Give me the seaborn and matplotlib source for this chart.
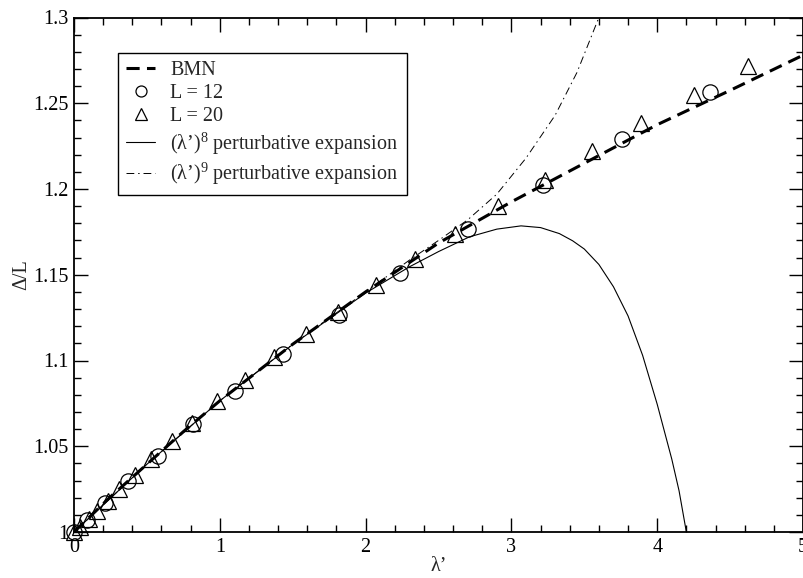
import numpy as np
import matplotlib
matplotlib.use("Agg")
import matplotlib.pyplot as plt
import seaborn as sns
from matplotlib.ticker import MultipleLocator, FuncFormatter

# ---- data ----
bmn_x = [0.0, 0.25, 0.5, 0.75, 1.0, 1.5, 2.0, 2.5, 3.0, 3.5, 4.0, 4.5, 5.0]
bmn_y = [1.0, 1.0205, 1.0395, 1.0585, 1.0765, 1.1095, 1.1400, 1.1685, 1.1925,
         1.2150, 1.2375, 1.2575, 1.2780]

l12_x = [0.0, 0.087, 0.212, 0.372, 0.573, 0.817, 1.107, 1.436, 1.817, 2.237,
         2.705, 3.215, 3.762, 4.361]
l12_y = [1.0, 1.007, 1.017, 1.0297, 1.0443, 1.063, 1.0823, 1.1037, 1.1266, 1.151,
         1.1764, 1.2022, 1.229, 1.2566]

l20_x = [0.0, 0.04, 0.10, 0.16, 0.23, 0.31, 0.42, 0.53, 0.67, 0.81, 0.98, 1.17,
         1.37, 1.59, 1.81, 2.07, 2.34, 2.61, 2.91, 3.23, 3.55, 3.89, 4.25, 4.62]
l20_y = [1.0, 1.003, 1.0075, 1.0125, 1.018, 1.025, 1.033, 1.0425, 1.053, 1.0635,
         1.0765, 1.0886, 1.1018, 1.1154, 1.1284, 1.1439, 1.1589, 1.174, 1.190,
         1.2051, 1.222, 1.2385, 1.2551, 1.2716]

p8_x = [0.0, 0.5, 1.0, 1.5, 2.0, 2.3, 2.5, 2.712, 2.9, 3.066, 3.2, 3.329, 3.42,
        3.5, 3.6, 3.7, 3.8, 3.9, 4.0, 4.1, 4.15, 4.20]
p8_y = [1.0, 1.0395, 1.0765, 1.1093, 1.1393, 1.1546, 1.1635, 1.1721, 1.1766,
        1.1785, 1.1775, 1.174, 1.1698, 1.1650, 1.1560, 1.1430, 1.1260, 1.1030,
        1.0745, 1.0425, 1.0240, 1.0]

p9_x = [0.0, 0.5, 1.0, 1.5, 2.0, 2.3, 2.5, 2.7, 2.9, 3.1, 3.3, 3.45, 3.6]
p9_y = [1.0, 1.0395, 1.0765, 1.1095, 1.1400, 1.1585, 1.170, 1.182, 1.197,
        1.218, 1.243, 1.268, 1.300]

x_ticks = [0, 1, 2, 3, 4, 5]
y_ticks = [1.0, 1.05, 1.1, 1.15, 1.2, 1.25, 1.3]

# ---- style ----
sns.set_style("ticks")
plt.rcParams["font.family"] = ["Liberation Serif", "DejaVu Serif"]
plt.rcParams["mathtext.fontset"] = "custom"
plt.rcParams["mathtext.rm"] = "Liberation Serif"
plt.rcParams["mathtext.it"] = "Liberation Serif:italic"
FS = 14.5
plt.rcParams["font.size"] = FS

fig = plt.figure(figsize=(8.04, 5.78), dpi=100)
ax = fig.add_axes([74 / 804, 46 / 578, 729 / 804, 514.5 / 578])

sns.lineplot(x=bmn_x, y=bmn_y, ax=ax, color="black", lw=2.2, estimator=None,
             sort=False, label="BMN")
h_bmn = ax.lines[-1]
h_bmn.set_dashes((4.3, 2.4))

sns.lineplot(x=p8_x, y=p8_y, ax=ax, color="black", lw=0.8, estimator=None,
             sort=False, label=r"(λ’)$^{8}$ perturbative expansion")
h_p8 = ax.lines[-1]

sns.lineplot(x=p9_x, y=p9_y, ax=ax, color="black", lw=0.7, estimator=None,
             sort=False, label=r"(λ’)$^{9}$ perturbative expansion")
h_p9 = ax.lines[-1]
h_p9.set_dashes((8, 4, 1.5, 4))

sns.lineplot(x=l12_x, y=l12_y, ax=ax, estimator=None, sort=False,
             marker="o", markersize=11, markerfacecolor="none",
             markeredgecolor="black", markeredgewidth=0.9, linestyle="none",
             color="black", label="L = 12")
h_12 = ax.lines[-1]
h_12.set_clip_on(False)

sns.lineplot(x=l20_x, y=l20_y, ax=ax, estimator=None, sort=False,
             marker="^", markersize=11.5, markerfacecolor="none",
             markeredgecolor="black", markeredgewidth=0.9, linestyle="none",
             color="black", label="L = 20")
h_20 = ax.lines[-1]
h_20.set_clip_on(False)

ax.set_xlim(0, 5)
ax.set_ylim(1.0, 1.3)
ax.set_xticks(x_ticks)
ax.set_yticks(y_ticks)
ax.xaxis.set_minor_locator(MultipleLocator(0.2))
ax.yaxis.set_minor_locator(MultipleLocator(0.01))
fmt = FuncFormatter(lambda v, p: "%g" % round(v, 4))
ax.xaxis.set_major_formatter(fmt)
ax.yaxis.set_major_formatter(fmt)

for s in ax.spines.values():
    s.set_linewidth(1.3)
    s.set_color("black")
    s.set_visible(True)
ax.tick_params(which="both", direction="in", top=True, right=True,
               colors="black", labelsize=FS)
ax.tick_params(which="major", length=10, width=1.0, pad=4)
ax.tick_params(which="minor", length=5, width=1.0)

ax.set_xlabel("λ’", fontsize=FS, labelpad=0)
ax.set_ylabel("Δ/L", fontsize=FS, labelpad=1)

leg = ax.legend([h_bmn, h_12, h_20, h_p8, h_p9],
                ["BMN", "L = 12", "L = 20",
                 r"(λ’)$^{8}$ perturbative expansion",
                 r"(λ’)$^{9}$ perturbative expansion"],
                loc="upper left", bbox_to_anchor=(0.0604, 0.931),
                borderaxespad=0, fancybox=False, framealpha=1,
                edgecolor="black", handlelength=1.45, handletextpad=0.75,
                labelspacing=0.2, borderpad=0.4, markerscale=0.72,
                fontsize=FS)
leg.get_frame().set_linewidth(1.0)

fig.savefig("out.png", dpi=100)
